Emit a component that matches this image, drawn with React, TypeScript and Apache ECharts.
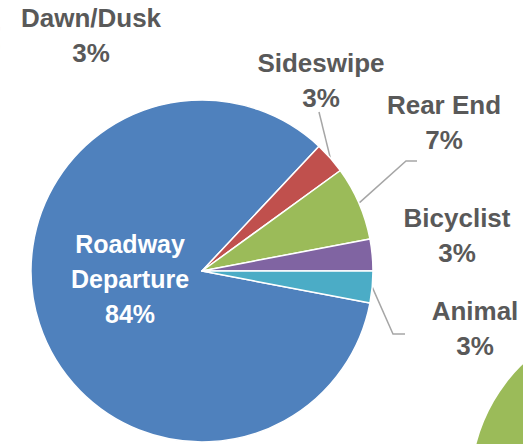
import React, { useEffect, useRef } from "react";
import * as echarts from "echarts";

// ---- data ----
const categories = ["Roadway Departure", "Sideswipe", "Rear End", "Bicyclist", "Animal"];
const labelNames = ["Roadway\nDeparture", "Sideswipe", "Rear End", "Bicyclist", "Animal"];
const shares = [84, 3, 7, 3, 3];
const colors = ["#4f81bd", "#c0504d", "#9bbb59", "#8064a2", "#4bacc6"];

const leftCategories = ["Dawn/Dusk", "Other"];
const leftShares = [3, 97];
const leftColors = ["#c0504d", "#9bbb59"];

const rightCategories = ["Other"];
const rightShares = [100];
const rightColors = ["#9bbb59"];

// ---- layout ----
const CENTER: [number, number] = [202, 271];
const RADIUS = 171;
const START_ANGLE = -10.8;
const labelPos: [number, number][] = [
  [130, 279],
  [321, 80],
  [444, 122],
  [457, 235],
  [475, 328],
];
// leader line bends (null = no line)
const lineTail: ([number, number][] | null)[] = [
  null,
  [[319, 112]],
  [[406, 161], [417, 161]],
  null,
  [[393, 334], [405, 334]],
];

const FONT = "'Liberation Sans', Arial, sans-serif";
const GRAY = "#595959";

export default function App() {
  const ref = useRef<HTMLDivElement>(null);
  useEffect(() => {
    if (!ref.current) return;
    const chart = echarts.init(ref.current, undefined, { renderer: "svg" });
    const total = shares.reduce((a, b) => a + b, 0);
    const mids: number[] = [];
    let acc = START_ANGLE;
    shares.forEach((v) => {
      const span = (v / total) * 360;
      mids.push(acc - span / 2);
      acc -= span;
    });

    const baseLabel = {
      show: true,
      fontFamily: FONT,
      fontWeight: "bold",
      fontSize: 26,
      lineHeight: 35,
      color: GRAY,
      overflow: "none",
      width: 300,
    };

    chart.setOption({
      animation: false,
      backgroundColor: "#ffffff",
      series: [
        {
          type: "pie",
          center: [-170.6, 38],
          radius: RADIUS,
          startAngle: 12.8,
          clockwise: true,
          silent: true,
          itemStyle: { borderColor: "#fff", borderWidth: 1.5 },
          label: {
            ...baseLabel,
            formatter: (p: any) => `${p.name}\n${p.value}%`,
          },
          labelLine: { show: false },
          labelLayout: (p: any) =>
            p.dataIndex === 0
              ? { x: 91, y: 35, align: "center", verticalAlign: "middle" }
              : { x: -500, y: -500 },
          data: leftCategories.map((n, i) => ({
            name: n,
            value: leftShares[i],
            itemStyle: { color: leftColors[i] },
            label: { show: i === 0 },
          })),
        },
        {
          type: "pie",
          center: [642, 487],
          radius: RADIUS,
          silent: true,
          label: { show: false },
          labelLine: { show: false },
          data: rightCategories.map((n, i) => ({
            name: n,
            value: rightShares[i],
            itemStyle: { color: rightColors[i] },
          })),
        },
        {
          type: "pie",
          center: CENTER,
          radius: RADIUS,
          startAngle: START_ANGLE,
          clockwise: true,
          avoidLabelOverlap: false,
          itemStyle: { borderColor: "#fff", borderWidth: 1.5 },
          label: {
            ...baseLabel,
            position: "outside",
            formatter: (p: any) => `${labelNames[p.dataIndex]}\n${p.value}%`,
          },
          labelLine: {
            show: true,
            lineStyle: { color: "#a6a6a6", width: 1.5 },
          },
          labelLayout: (p: any) => {
            const i = p.dataIndex;
            const res: any = {
              x: labelPos[i][0],
              y: labelPos[i][1],
              align: "center",
              verticalAlign: "middle",
            };
            const tail = lineTail[i];
            if (tail) {
              const a = (mids[i] * Math.PI) / 180;
              const start: [number, number] = [
                CENTER[0] + RADIUS * Math.cos(a),
                CENTER[1] - RADIUS * Math.sin(a),
              ];
              const pts = [start, ...tail];
              if (pts.length === 2) pts.splice(1, 0, tail[0]);
              res.labelLinePoints = pts;
            }
            return res;
          },
          data: categories.map((n, i) => ({
            name: n,
            value: shares[i],
            itemStyle: { color: colors[i] },
            label:
              i === 0
                ? { position: "inside", color: "#ffffff", fontSize: 25 }
                : {},
            labelLine: { show: lineTail[i] !== null },
          })),
        },
      ],
    });
    return () => chart.dispose();
  }, []);
  return (
    <div
      ref={ref}
      style={{ position: "fixed", left: 0, top: 0, width: 523, height: 444 }}
    />
  );
}
